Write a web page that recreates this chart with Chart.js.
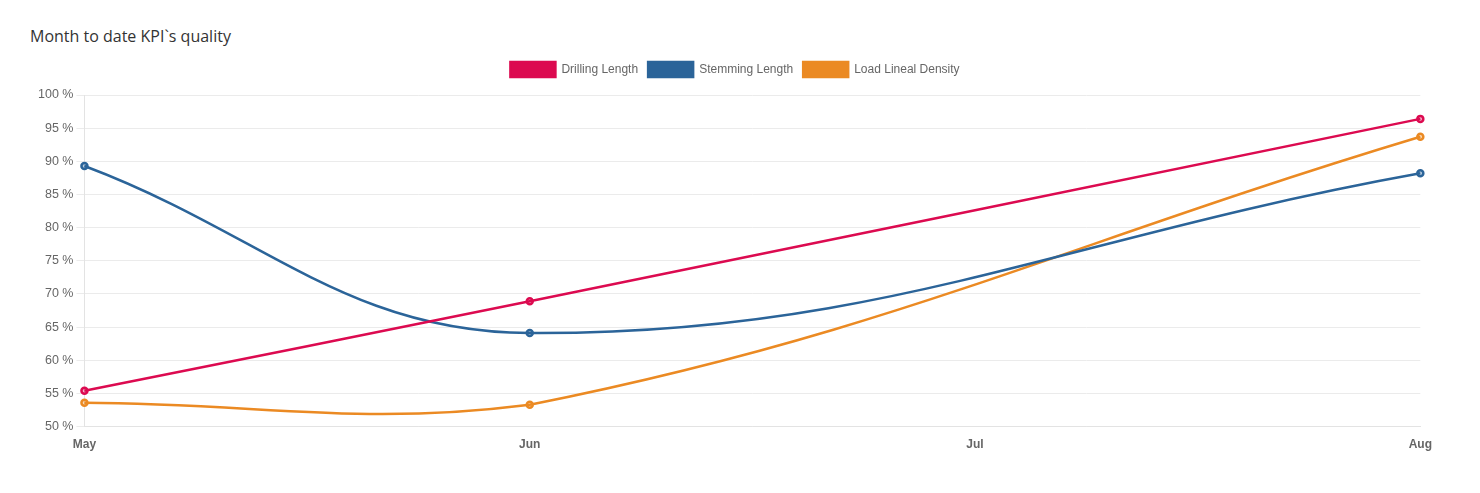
<!DOCTYPE html>
<html>
<head>
<meta charset="utf-8">
<script src="https://cdn.jsdelivr.net/npm/chart.js@4"></script>
<style>
    body { margin: 0; background: #fff; }
    .title {
        position: absolute; left: 30px; top: 25px;
        font-family: "Open Sans", sans-serif; font-size: 16px; color: #333;
    }
    .wrap { position: absolute; left: 35px; top: 52px; width: 1400px; height: 403px; }
</style>
</head>
<body>
<div class="title">Month to date KPI`s quality</div>
<div class="wrap"><canvas id="kpiChart"></canvas></div>
<script>
// Data
const months = ['May', 'Jun', 'Jul', 'Aug'];
const drillingLength = [55.4, 68.9, null, 96.4];
const stemmingLength = [89.3, 64.1, null, 88.2];
const loadLinealDensity = [53.6, 53.3, null, 93.7];

const makeSet = (label, data, color) => ({
    label,
    data,
    borderColor: color,
    backgroundColor: color,
    pointBackgroundColor: color + '55',
    pointBorderColor: color,
    pointRadius: 3,
    borderWidth: 2.5,
    tension: 0.4,
    spanGaps: true,
    fill: false
});

// extra space under the legend
const legendGap = {
    id: 'legendGap',
    beforeInit(chart) {
        const fit = chart.legend.fit;
        chart.legend.fit = function () {
            fit.bind(chart.legend)();
            this.height += 8;
        };
    }
};

new Chart(document.getElementById('kpiChart'), {
    type: 'line',
    data: {
        labels: months,
        datasets: [
            makeSet('Drilling Length', drillingLength, '#dc0a50'),
            makeSet('Stemming Length', stemmingLength, '#2b6499'),
            makeSet('Load Lineal Density', loadLinealDensity, '#eb8a23')
        ]
    },
    plugins: [legendGap],
    options: {
        responsive: true,
        maintainAspectRatio: false,
        animation: false,
        plugins: {
            legend: {
                labels: {
                    boxWidth: 45,
                    boxHeight: 15,
                    color: '#666',
                    font: { family: 'Liberation Sans', size: 12 }
                }
            },
            tooltip: { enabled: false }
        },
        scales: {
            x: {
                grid: { display: false },
                border: { color: '#e3e3e3' },
                ticks: { color: '#666', font: { family: 'Liberation Sans', size: 12, weight: 'bold' } }
            },
            y: {
                min: 50,
                max: 100,
                ticks: {
                    stepSize: 5,
                    color: '#666',
                    font: { family: 'Liberation Sans', size: 12.5 },
                    callback: v => v + ' %'
                },
                grid: { color: '#ebebeb' },
                border: { color: '#e3e3e3' }
            }
        }
    }
});
</script>
</body>
</html>
